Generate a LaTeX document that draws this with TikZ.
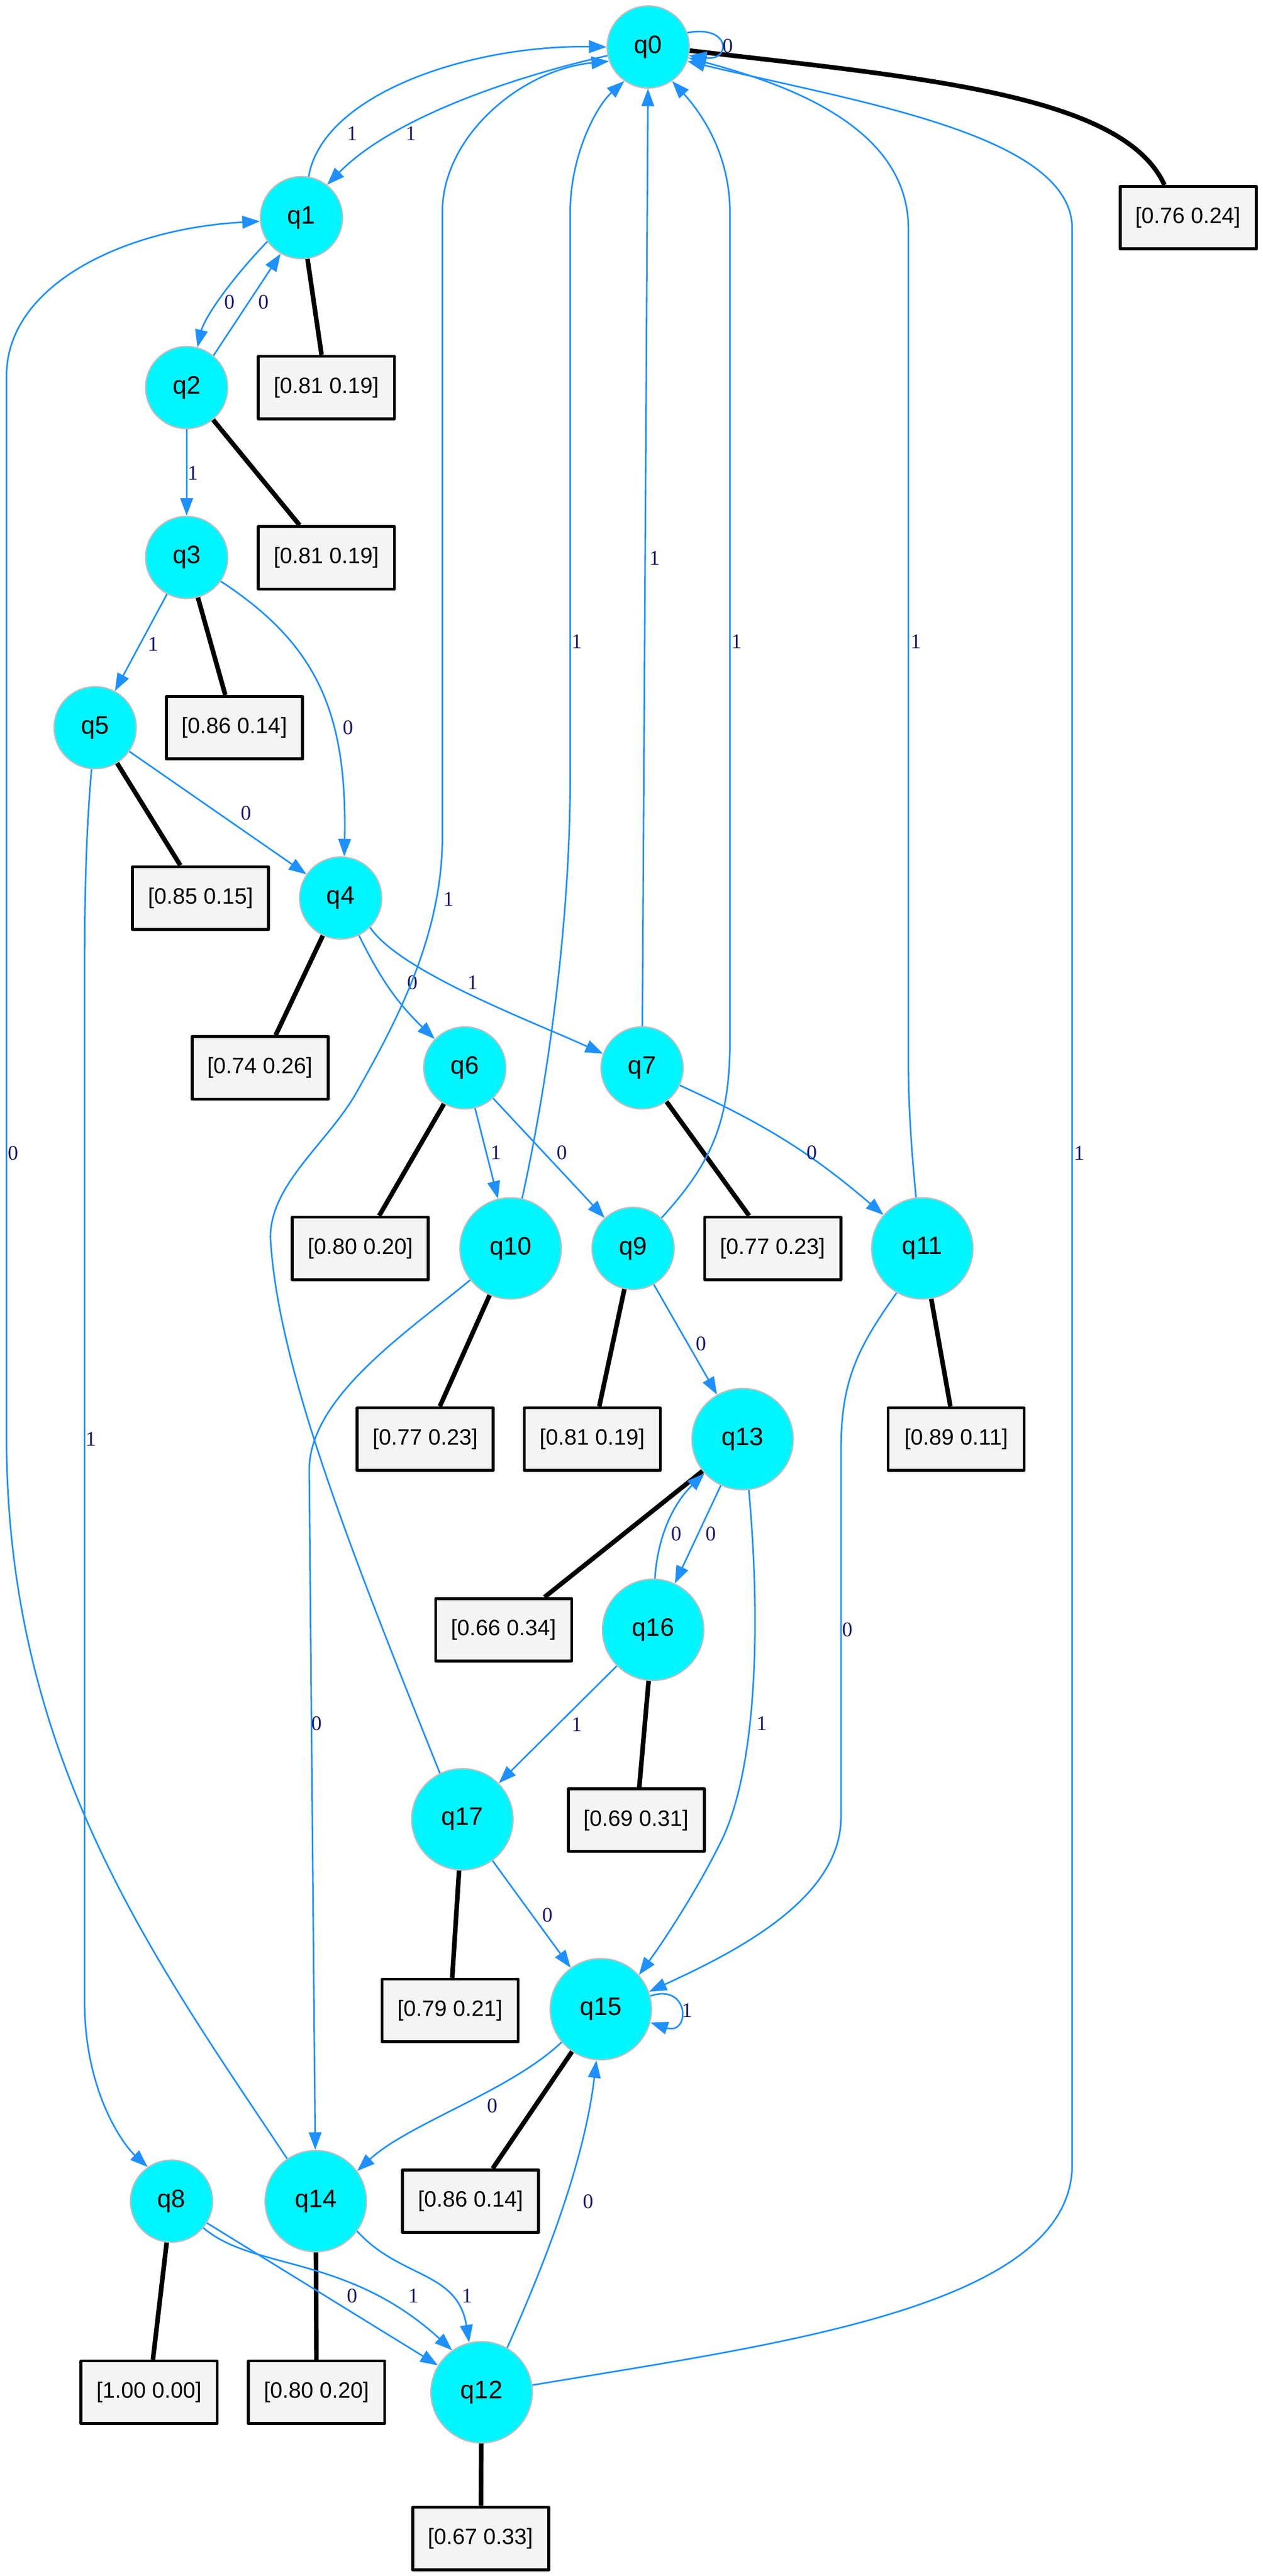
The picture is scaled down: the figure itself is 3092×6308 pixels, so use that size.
\documentclass[tikz,border=0pt]{standalone}
\usepackage{fontspec}
\setmainfont{Liberation Serif}
\newfontfamily\nodefont{Liberation Sans}
\usepackage{xcolor}
\usepackage{tikz}
\usetikzlibrary{shapes,arrows,arrows.meta,positioning,calc}

\definecolor{edgeblue}{RGB}{30,144,255}
\definecolor{statecyan}{RGB}{0,245,255}
\definecolor{stategray}{RGB}{190,190,190}
\definecolor{lblnavy}{RGB}{25,25,112}
\definecolor{boxfill}{RGB}{244,244,244}

\begin{document}
\begin{tikzpicture}[x=0.01cm,y=-0.01cm,
  state/.style={circle,draw=stategray,line width=0.9pt,fill=statecyan,minimum size=2.01cm,inner sep=0pt,font=\nodefont\fontsize{17.5}{20}\selectfont},
  bigstate/.style={state,minimum size=2.48cm},
  probbox/.style={rectangle,draw=black,line width=2pt,line join=round,fill=boxfill,minimum width=3.33cm,minimum height=1.53cm,inner sep=0pt,font=\nodefont\fontsize{15.5}{18}\selectfont},
  edge/.style={draw=edgeblue,line width=1.1pt,-{Triangle[length=0.43cm,width=0.31cm]}},
  link/.style={draw=black,line width=3.2pt},
  lbl/.style={text=lblnavy,font=\fontsize{14.5}{17}\selectfont,inner sep=0pt}]
\useasboundingbox (0,0) rectangle (3092,6308);

% States
\node[state] (q0) at (1587,115) {q0};
\node[state] (q1) at (738,533) {q1};
\node[state] (q2) at (457,949) {q2};
\node[state] (q3) at (457,1365) {q3};
\node[state] (q5) at (233,1782) {q5};
\node[state] (q4) at (834,2199) {q4};
\node[state] (q6) at (1138,2615) {q6};
\node[state] (q7) at (1572,2615) {q7};
\node[bigstate] (q10) at (1250,3057) {q10};
\node[state] (q9) at (1550,3057) {q9};
\node[bigstate] (q11) at (2258,3057) {q11};
\node[bigstate] (q13) at (1818,3524) {q13};
\node[bigstate] (q16) at (1599,3991) {q16};
\node[bigstate] (q17) at (1132,4455) {q17};
\node[bigstate] (q15) at (1471,4920) {q15};
\node[state] (q8) at (420,5390) {q8};
\node[bigstate] (q14) at (773,5390) {q14};
\node[bigstate] (q12) at (1179,5858) {q12};

% Probability boxes
\node[probbox] (b0) at (2909,533) {[0.76 0.24]};
\node[probbox] (b1) at (799,949) {[0.81 0.19]};
\node[probbox] (b2) at (799,1366) {[0.81 0.19]};
\node[probbox] (b3) at (574,1782) {[0.86 0.14]};
\node[probbox] (b5) at (491,2199) {[0.85 0.15]};
\node[probbox] (b4) at (637,2615) {[0.74 0.26]};
\node[probbox] (b6) at (882,3057) {[0.80 0.20]};
\node[probbox] (b7) at (1892,3057) {[0.77 0.23]};
\node[probbox] (b10) at (1041,3524) {[0.77 0.23]};
\node[probbox] (b9) at (1450,3524) {[0.81 0.19]};
\node[probbox] (b11) at (2341,3524) {[0.89 0.11]};
\node[probbox] (b13) at (1233,3991) {[0.66 0.34]};
\node[probbox] (b16) at (1558,4457) {[0.69 0.31]};
\node[probbox] (b17) at (1102,4923) {[0.79 0.21]};
\node[probbox] (b15) at (1152,5390) {[0.86 0.14]};
\node[probbox] (b8) at (365,5858) {[1.00 0.00]};
\node[probbox] (b14) at (775,5858) {[0.80 0.20]};
\node[probbox] (b12) at (1177,6216) {[0.67 0.33]};

% Links to boxes
\draw[link] (q0.-5) .. controls (2250,190) and (2750,230) .. (b0.126);
\draw[link] (q1) -- (b1);
\draw[link] (q2) -- (b2);
\draw[link] (q3) -- (b3);
\draw[link] (q5) -- (b5);
\draw[link] (q4) -- (b4);
\draw[link] (q6) -- (b6);
\draw[link] (q7) -- (b7);
\draw[link] (q10) -- (b10);
\draw[link] (q9) -- (b9);
\draw[link] (q11) -- (b11);
\draw[link] (q13) -- (b13);
\draw[link] (q16) -- (b16);
\draw[link] (q17) -- (b17);
\draw[link] (q15) -- (b15);
\draw[link] (q8) -- (b8);
\draw[link] (q14) -- (b14);
\draw[link] (q12) -- (b12);

% Transitions
\draw[edge] (q0.20) .. controls (1790,60) and (1790,150) .. (q0.-12) node[lbl,at={(1782,113)}] {0};
\draw[edge] (q1.80) .. controls (790,230) and (1150,110) .. (q0.180) node[lbl,at={(862,327)}] {1};
\draw[edge] (q0.192) .. controls (1250,190) and (960,290) .. (q1.52) node[lbl,at={(1006,327)}] {1};
\draw[edge] (q1.215) .. controls (560,690) and (500,780) .. (q2.75) node[lbl,at={(562,740)}] {0};
\draw[edge] (q2.50) -- (q1.240) node[lbl,at={(645,740)}] {0};
\draw[edge] (q2) -- (q3) node[lbl,at={(473,1158)}] {1};
\draw[edge] (q3) -- (q5) node[lbl,at={(375,1577)}] {1};
\draw[edge] (q3.-35) .. controls (780,1580) and (850,1750) .. (q4.85) node[lbl,at={(852,1782)}] {0};
\draw[edge] (q5) -- (q4) node[lbl,at={(603,1991)}] {0};
\draw[edge] (q5.265) .. controls (210,2050) and (207,2200) .. (207,2400) -- (207,4900) .. controls (207,5120) and (300,5250) .. (q8.125) node[lbl,at={(223,3524)}] {1};
\draw[edge] (q4) to[bend right=10] (q6) node[lbl,at={(1010,2406)}] {0};
\draw[edge] (q4.-45) .. controls (980,2380) and (1300,2500) .. (q7.160) node[lbl,at={(1158,2406)}] {1};
\draw[edge] (q6) -- (q10) node[lbl,at={(1215,2822)}] {1};
\draw[edge] (q6) -- (q9) node[lbl,at={(1376,2822)}] {0};
\draw[edge] (q7) -- (q0) node[lbl,at={(1603,1367)}] {1};
\draw[edge] (q7) to[bend left=8] (q11) node[lbl,at={(1988,2822)}] {0};
\draw[edge] (q10.77) .. controls (1330,2700) and (1396,2300) .. (1396,1900) -- (1396,520) .. controls (1396,380) and (1460,260) .. (q0.235) node[lbl,at={(1412,1571)}] {1};
\draw[edge] (q10.218) .. controls (1000,3260) and (757,3420) .. (757,3600) -- (q14) node[lbl,at={(775,4220)}] {0};
\draw[edge] (q9.47) .. controls (1740,2850) and (1787,2750) .. (1787,2550) -- (1787,520) .. controls (1787,380) and (1720,280) .. (q0.-55) node[lbl,at={(1804,1571)}] {1};
\draw[edge] (q9) -- (q13) node[lbl,at={(1716,3290)}] {0};
\draw[edge] (q11.97) .. controls (2230,2800) and (2224,2700) .. (2224,2600) -- (2224,560) .. controls (2224,300) and (1900,200) .. (q0.-15) node[lbl,at={(2242,1571)}] {1};
\draw[edge] (q11.240) .. controls (2100,3300) and (2059,3380) .. (2059,3550) -- (2059,4450) .. controls (2059,4650) and (1800,4780) .. (q15.20) node[lbl,at={(2075,3991)}] {0};
\draw[edge] (q13) -- (q16) node[lbl,at={(1741,3756)}] {0};
\draw[edge] (q16.88) .. controls (1610,3760) and (1650,3680) .. (q13.222) node[lbl,at={(1656,3756)}] {0};
\draw[edge] (q13.-83) .. controls (1865,4000) and (1850,4350) .. (1760,4520) .. controls (1700,4640) and (1620,4760) .. (q15.42) node[lbl,at={(1866,4220)}] {1};
\draw[edge] (q16) -- (q17) node[lbl,at={(1412,4223)}] {1};
\draw[edge] (q17.116) .. controls (860,3800) and (680,3350) .. (662,3030) .. controls (662,2900) and (800,2800) .. (870,2680) .. controls (960,2520) and (1083,2300) .. (1083,2050) -- (1083,520) .. controls (1083,330) and (1280,170) .. (q0.200) node[lbl,at={(1098,2202)}] {1};
\draw[edge] (q17) -- (q15) node[lbl,at={(1341,4690)}] {0};
\draw[edge] (q15.15) .. controls (1690,4855) and (1690,4985) .. (q15.-15) node[lbl,at={(1682,4923)}] {1};
\draw[edge] (q15.220) .. controls (1250,5120) and (1000,5200) .. (q14.36) node[lbl,at={(1205,5156)}] {0};
\draw[edge] (q14.124) .. controls (380,4800) and (10,4300) .. (16,3500) -- (16,920) .. controls (16,700) and (300,560) .. (q1.185) node[lbl,at={(32,2824)}] {0};
\draw[edge] (q14.-36) .. controls (980,5580) and (1120,5560) .. (q12.104) node[lbl,at={(1144,5622)}] {1};
\draw[edge] (q8) -- (q12) node[lbl,at={(862,5622)}] {0};
\draw[edge] (q8.-40) .. controls (620,5560) and (850,5520) .. (q12.125) node[lbl,at={(1012,5622)}] {1};
\draw[edge] (q12.8) .. controls (1900,5740) and (2625,5650) .. (2625,5300) -- (2625,560) .. controls (2625,330) and (2100,250) .. (q0.-20) node[lbl,at={(2642,2824)}] {1};
\draw[edge] (q12.60) .. controls (1330,5550) and (1430,5300) .. (q15.-95) node[lbl,at={(1440,5391)}] {0};
\end{tikzpicture}
\end{document}
